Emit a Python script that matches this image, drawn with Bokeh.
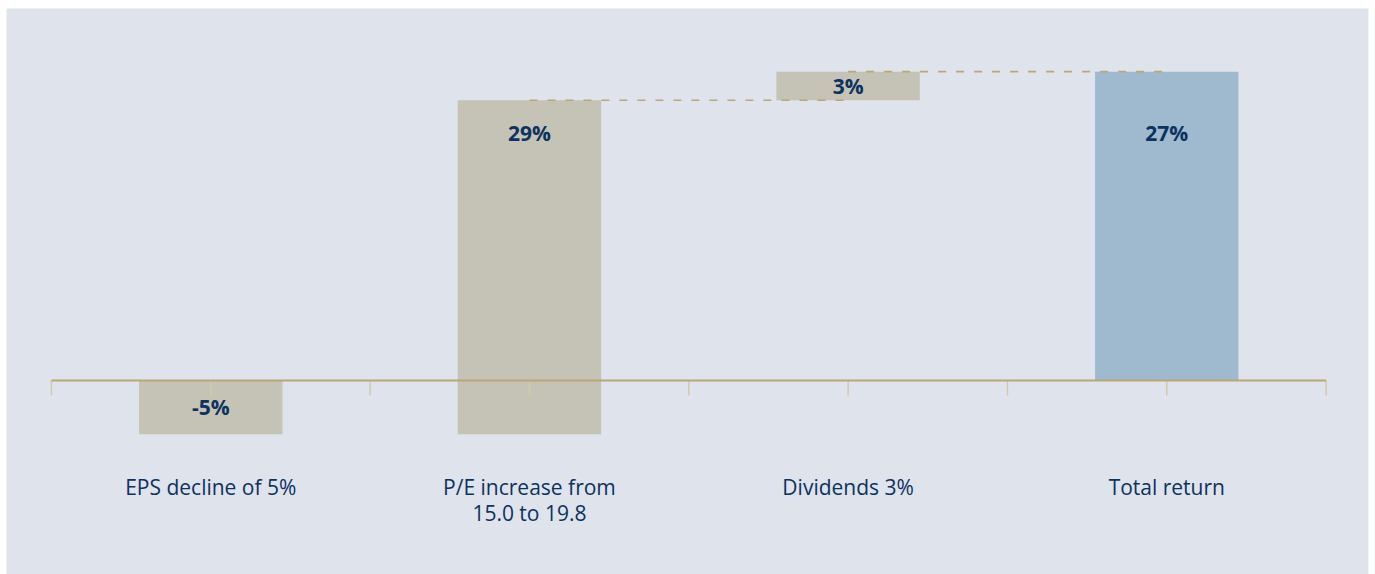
from bokeh.plotting import figure
from bokeh.models import ColumnDataSource, Range1d
from bokeh.core.properties import value
from bokeh.embed import file_html
from bokeh.resources import INLINE

# ---- data ----
categories = ["EPS decline of 5%", "P/E increase from\n15.0 to 19.8", "Dividends 3%", "Total return"]
step_values = [-4.7, 29.2, 2.5]          # contributions (%)
total_value = 27.0                       # total return (%)
bar_labels = ["-5%", "29%", "3%", "27%"]

# ---- styling ----
PANEL = "#dfe3ec"
TAN_BAR = "#c4c3b5"
BLUE_BAR = "#9fb9ce"
NAVY = "#0c3260"
AXIS_TAN = "#bca679"
TICK_TAN = "#d3c9ad"
FONT = "Open Sans"

n = len(categories)
# waterfall geometry computed from the data
bottoms, tops = [], []
running = 0.0
for v in step_values:
    bottoms.append(min(running, running + v))
    tops.append(max(running, running + v))
    running += v
bottoms.append(min(0.0, total_value))
tops.append(max(0.0, total_value))
centers = [i + 0.5 for i in range(n)]
colors = [TAN_BAR] * len(step_values) + [BLUE_BAR]

label_level = 0.8 * total_value
label_y = []
for b, t in zip(bottoms, tops):
    if t - b < 10:
        label_y.append((b + t) / 2)
    else:
        label_y.append(label_level)

bars = ColumnDataSource(dict(x=centers, bottom=bottoms, top=tops, color=colors,
                             label=bar_labels, ly=label_y, cat=categories))

W, H = 1375, 574
ml, mr, mt, mb = 6, 7, 8, 0
y_start, y_end = -16.96, 32.52
frame_h = H - mt - mb
px_per_unit = frame_h / (y_end - y_start)

p = figure(width=W, height=H, output_backend="svg", toolbar_location=None,
           x_range=Range1d(-0.141, n + 0.133), y_range=Range1d(y_start, y_end),
           x_axis_type=None, y_axis_type=None,
           min_border_left=ml, min_border_right=mr, min_border_top=mt, min_border_bottom=mb,
           background_fill_color=PANEL, border_fill_color="white", outline_line_color=None)
p.grid.visible = False

p.vbar(x="x", bottom="bottom", top="top", width=0.45, fill_color="color",
       line_color=None, source=bars)

# dashed connectors between consecutive steps
cx0, cx1, cy = [], [], []
running = 0.0
for i, v in enumerate(step_values):
    running += v
    if i >= 1:
        cx0.append(centers[i]); cx1.append(centers[i + 1]); cy.append(running)
p.segment(x0=cx0, x1=cx1, y0=cy, y1=cy, line_color=AXIS_TAN, line_width=1.7,
          line_dash="8 10")

# baseline axis with ticks
tick_x = [i * 0.5 for i in range(2 * n + 1)]
tick_len = 15 / px_per_unit
p.segment(x0=tick_x, x1=tick_x, y0=[0] * len(tick_x), y1=[-tick_len] * len(tick_x),
          line_color=TICK_TAN, line_width=1.5)
p.segment(x0=[0], x1=[n], y0=[0], y1=[0], line_color=AXIS_TAN, line_width=2)

# value labels
p.text(x="x", y="ly", text="label", source=bars, text_align="center",
       text_baseline="middle", text_color=NAVY, text_font=value(FONT),
       text_font_size="21px", text_font_style="bold")

# category labels
p.text(x="x", y=0, text="cat", source=bars, text_align="center",
       text_baseline="top", y_offset=93, text_color=NAVY, text_font=value(FONT),
       text_font_size="21px", text_line_height=0.91)

open("out.html", "w").write(file_html(p, INLINE))
